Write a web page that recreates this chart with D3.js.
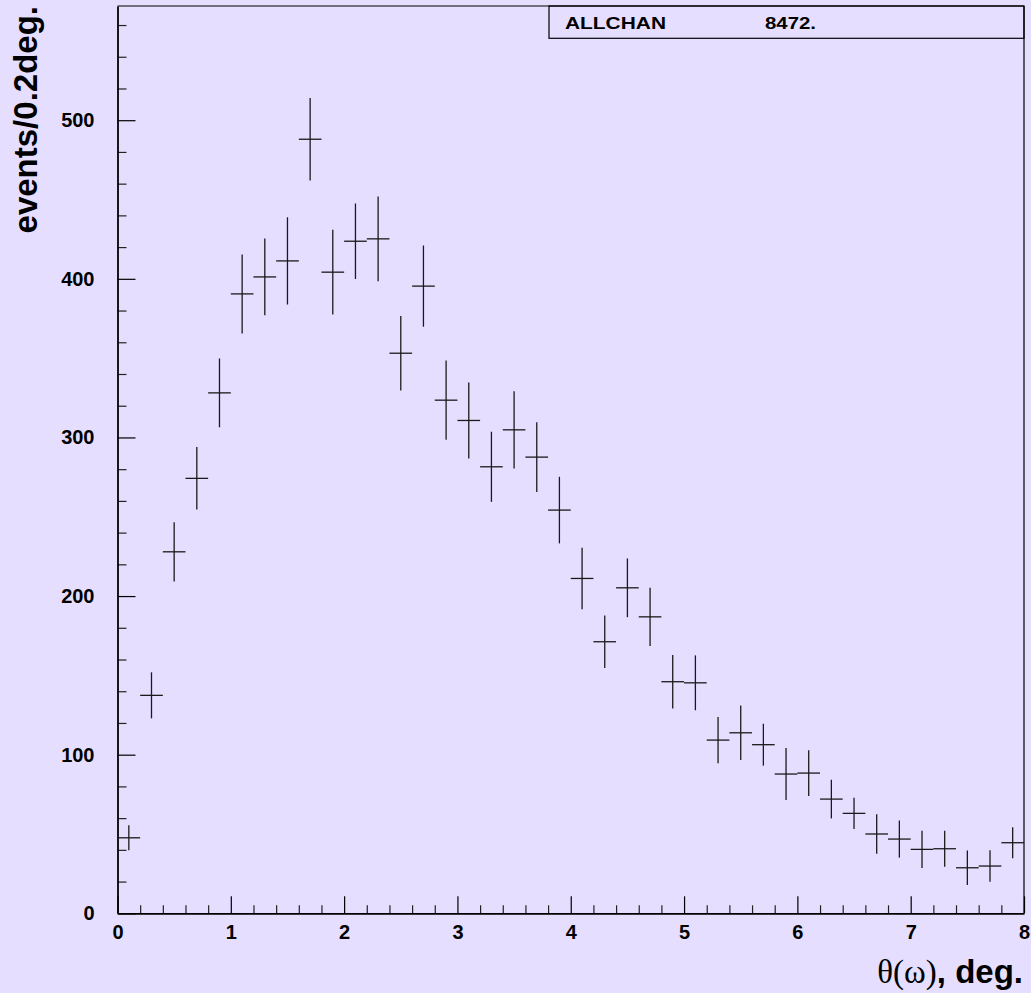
<!DOCTYPE html>
<html>
<head>
<meta charset="utf-8">
<script src="https://cdn.jsdelivr.net/npm/d3@7"></script>
<style>
  html, body { margin: 0; padding: 0; background: #e6deff; }
  svg { display: block; }
</style>
</head>
<body>
<svg id="chart" width="1031" height="993"></svg>
<script>
// ---- data ----
const binCenters = [0.1,0.3,0.5,0.7,0.9,1.1,1.3,1.5,1.7,1.9,2.1,2.3,2.5,2.7,2.9,3.1,3.3,3.5,3.7,3.9,
                    4.1,4.3,4.5,4.7,4.9,5.1,5.3,5.5,5.7,5.9,6.1,6.3,6.5,6.7,6.9,7.1,7.3,7.5,7.7,7.9];
const counts = [47.6,137.4,227.9,274.2,328.1,390.5,401.2,411.3,488,404.2,
                423.7,425.2,353.1,395.4,323.5,310.7,281.5,304.8,287.6,254.2,
                211.1,171.2,205.2,186.9,146,145.3,109.2,113.8,106.3,87.8,
                88.4,72,63,50,46.8,40.3,40.7,28.7,29.8,44.5];
const errors = [7.9,14.5,18.7,19.7,21.7,24.9,24.2,27.5,26,26.7,
                23.8,26.7,23.5,25.6,25.0,24,22.1,24.4,22,21,
                19.4,16.5,18.5,18.4,16.9,17.3,14.6,17.2,13.2,16.4,
                14.4,12.2,9.8,12.5,11.7,11.8,11.3,10.9,9.9,9.8];
const binWidth = 0.2;
const xDomain = [0, 8];
const yDomain = [0, 572];
const xMajorTicks = [0,1,2,3,4,5,6,7,8];
const yMajorTicks = [0,100,200,300,400,500];
const legendName = "ALLCHAN";
const legendValue = "8472.";
const yTitle = "events/0.2deg.";

// ---- layout ----
const svg = d3.select("#chart");
const W = 1031, H = 993;
const m = {left: 117.5, right: 7, top: 6, bottom: 79.7};
const x = d3.scaleLinear().domain(xDomain).range([m.left, W - m.right]);
const y = d3.scaleLinear().domain(yDomain).range([H - m.bottom, m.top]);

const xMinor = d3.range(0, 8.0001, binWidth).map(v => +v.toFixed(1)).filter(v => !xMajorTicks.includes(v));
const yMinor = d3.range(0, 572, 20).filter(v => !yMajorTicks.includes(v));

const font = "'Liberation Sans', Arial, Helvetica, sans-serif";

// frame (top and right)
svg.append("line").attr("x1", x(0)).attr("x2", x(8)).attr("y1", y(572)).attr("y2", y(572))
  .attr("stroke", "#000").attr("stroke-width", 1.2);
svg.append("line").attr("x1", x(8)).attr("x2", x(8)).attr("y1", y(572)).attr("y2", y(0))
  .attr("stroke", "#000").attr("stroke-width", 1.2);

// y axis minor ticks
svg.append("g").attr("transform", `translate(${x(0)},0)`)
  .call(d3.axisLeft(y).tickValues(yMinor).tickSize(-9).tickFormat(""))
  .call(g => g.select(".domain").remove())
  .selectAll("line").attr("stroke", "#222").attr("stroke-width", 1.2);
// y axis major
const gy = svg.append("g").attr("transform", `translate(${x(0)},0)`)
  .call(d3.axisLeft(y).tickValues(yMajorTicks).tickSize(-18).tickSizeOuter(0).tickPadding(23).tickFormat(d3.format("d")));
gy.select(".domain").attr("stroke", "#000").attr("stroke-width", 1.8);
gy.selectAll("line").attr("stroke", "#000").attr("stroke-width", 1.2);
gy.selectAll("text").attr("font-family", font).attr("font-weight", "bold").attr("font-size", 20).attr("fill", "#000");

// x axis minor ticks
svg.append("g").attr("transform", `translate(0,${y(0)})`)
  .call(d3.axisBottom(x).tickValues(xMinor).tickSize(-8).tickFormat(""))
  .call(g => g.select(".domain").remove())
  .selectAll("line").attr("stroke", "#222").attr("stroke-width", 1.2);
// x axis major
const gx = svg.append("g").attr("transform", `translate(0,${y(0)})`)
  .call(d3.axisBottom(x).tickValues(xMajorTicks).tickSize(-17).tickSizeOuter(0).tickPadding(12).tickFormat(d3.format("d")));
gx.select(".domain").attr("stroke", "#000").attr("stroke-width", 1.8);
gx.selectAll("line").attr("stroke", "#000").attr("stroke-width", 1.2);
gx.selectAll("text").attr("font-family", font).attr("font-weight", "bold").attr("font-size", 20).attr("fill", "#000");

// data: error crosses
const pts = binCenters.map((c, i) => ({c, v: counts[i], e: errors[i]}));
const gd = svg.append("g").attr("stroke", "#1a1a1a").attr("stroke-width", 1.3).attr("fill", "none");
gd.selectAll("line.h").data(pts).join("line").attr("class", "h")
  .attr("x1", d => x(d.c - binWidth / 2)).attr("x2", d => x(d.c + binWidth / 2))
  .attr("y1", d => y(d.v)).attr("y2", d => y(d.v));
gd.selectAll("line.v").data(pts).join("line").attr("class", "v")
  .attr("x1", d => x(d.c)).attr("x2", d => x(d.c))
  .attr("y1", d => y(d.v + d.e)).attr("y2", d => y(d.v - d.e));

// legend box
const lb = {x0: 549, y0: y(572), x1: x(8), y1: 38.3};
svg.append("rect").attr("x", lb.x0).attr("y", lb.y0).attr("width", lb.x1 - lb.x0).attr("height", lb.y1 - lb.y0)
  .attr("fill", "none").attr("stroke", "#000").attr("stroke-width", 1.2);
svg.append("text").attr("x", 565).attr("y", 28.5).attr("font-family", font).attr("font-weight", "bold")
  .attr("font-size", 16.5).attr("textLength", 101).attr("lengthAdjust", "spacingAndGlyphs").text(legendName);
svg.append("text").attr("x", 765).attr("y", 28.5).attr("font-family", font).attr("font-weight", "bold")
  .attr("font-size", 16.5).attr("textLength", 51).attr("lengthAdjust", "spacingAndGlyphs").text(legendValue);

// y title
svg.append("text").attr("transform", `translate(37,6) rotate(-90)`).attr("text-anchor", "end")
  .attr("font-family", font).attr("font-weight", "bold").attr("font-size", 33).text(yTitle);

// x title
const xt = svg.append("text").attr("x", 1023).attr("y", 983).attr("text-anchor", "end").attr("font-size", 33);
xt.append("tspan").attr("font-family", "'Liberation Serif', 'DejaVu Serif', serif").text("θ(ω)");
xt.append("tspan").attr("font-family", font).attr("font-weight", "bold").text(", deg.");
</script>
</body>
</html>
